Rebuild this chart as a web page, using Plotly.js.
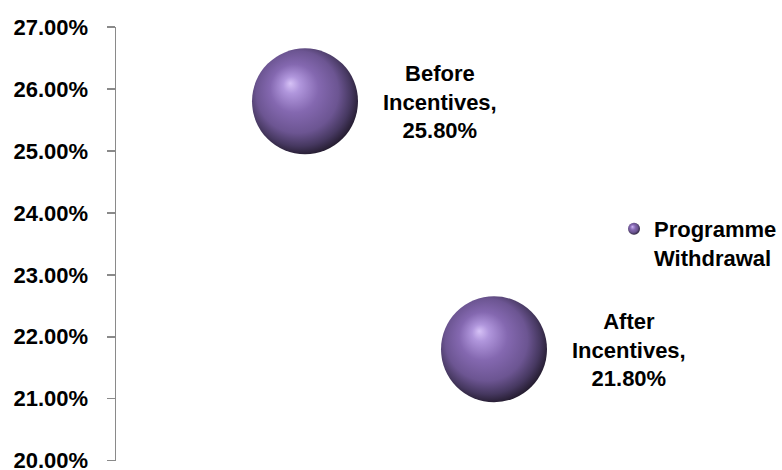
<!DOCTYPE html>
<html>
<head>
<meta charset="utf-8">
<script src="https://cdn.plot.ly/plotly-3.0.1.min.js"></script>
<style>
  html, body { margin: 0; padding: 0; background: #ffffff; }
  #chart { width: 782px; height: 470px; }
</style>
</head>
<body>
<div id="chart"></div>
<script>
// ---- data ----
const categories = ['Before Incentives', 'After Incentives'];
const xPositions = [1, 2];
const withdrawalRate = [0.258, 0.218];
const bubbleSize = [1, 1];
const seriesName = 'Programme<br>Withdrawal';
const yTickValues = [0.20, 0.21, 0.22, 0.23, 0.24, 0.25, 0.26, 0.27];

// ---- chart ----
const FONT = 'Liberation Sans, Arial, sans-serif';

const labels = categories.map((c, i) =>
  c.replace(' ', '<br>') + ',<br>' + (withdrawalRate[i] * 100).toFixed(2) + '%'
);

const trace = {
  type: 'scatter',
  mode: 'markers',
  name: seriesName,
  x: xPositions,
  y: withdrawalRate,
  hoverinfo: 'skip',
  marker: {
    size: bubbleSize,
    sizemode: 'diameter',
    sizeref: 1 / 106,
    opacity: 1,
    color: '#8064a2',
    line: { width: 0 },
    gradient: { type: 'radial', color: '#2a2135' }
  }
};

const annotations = labels.map((t, i) => ({
  x: xPositions[i],
  y: withdrawalRate[i],
  xref: 'x',
  yref: 'y',
  text: t,
  showarrow: false,
  xanchor: 'center',
  yanchor: 'middle',
  xshift: 135,
  yshift: -1,
  align: 'center',
  font: { family: FONT, size: 22, color: '#000000', weight: 700 }
}));

const layout = {
  width: 782,
  height: 470,
  margin: { l: 116, r: 99, t: 27, b: 9, pad: 0, autoexpand: false },
  paper_bgcolor: '#ffffff',
  plot_bgcolor: '#ffffff',
  showlegend: true,
  hovermode: false,
  xaxis: {
    range: [0, 3],
    visible: false,
    fixedrange: true
  },
  yaxis: {
    range: [0.19995, 0.27],
    tickmode: 'array',
    tickvals: yTickValues,
    tickformat: '.2%',
    showgrid: false,
    zeroline: false,
    showline: true,
    linecolor: '#8a8a8a',
    linewidth: 1.5,
    ticks: 'outside',
    ticklen: 8,
    tickwidth: 1.5,
    tickcolor: '#8a8a8a',
    ticklabelstandoff: 14,
    ticklabeloverflow: 'allow',
    automargin: false,
    tickfont: { family: FONT, size: 22, color: '#000000', weight: 700 },
    fixedrange: true
  },
  legend: {
    xref: 'paper',
    yref: 'paper',
    x: (614 - 116) / 567,
    xanchor: 'left',
    y: (461 - 208) / 434,
    yanchor: 'top',
    valign: 'top',
    itemsizing: 'constant',
    bgcolor: 'rgba(0,0,0,0)',
    borderwidth: 0,
    font: { family: FONT, size: 22, color: '#000000', weight: 700 }
  },
  annotations: annotations
};

const gd = document.getElementById('chart');
Plotly.newPlot(gd, [trace], layout, { displayModeBar: false, staticPlot: true }).then(() => {
  // glossy, off-centre sphere shading for the bubbles
  const stops = [
    [0.00, '#d6c2f6'],
    [0.14, '#b096dc'],
    [0.40, '#8468b0'],
    [0.68, '#6c5592'],
    [0.86, '#463860'],
    [1.00, '#221a2c']
  ];
  gd.querySelectorAll('radialGradient').forEach(g => {
    g.setAttribute('cx', '0.46');
    g.setAttribute('cy', '0.45');
    g.setAttribute('r', '0.57');
    g.setAttribute('fx', '0.36');
    g.setAttribute('fy', '0.33');
    while (g.firstChild) g.removeChild(g.firstChild);
    stops.forEach(([o, c]) => {
      const s = document.createElementNS('http://www.w3.org/2000/svg', 'stop');
      s.setAttribute('offset', o);
      s.setAttribute('stop-color', c);
      g.appendChild(s);
    });
  });
});
</script>
</body>
</html>
